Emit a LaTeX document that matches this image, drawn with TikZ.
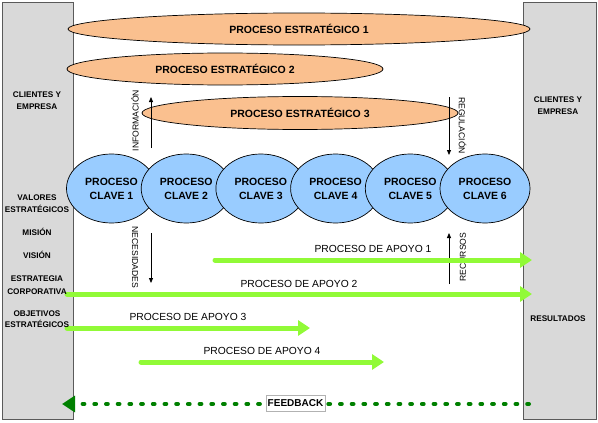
\documentclass[tikz,border=0pt]{standalone}
\usepackage{fontspec}
\setmainfont{Liberation Sans}
\usetikzlibrary{shapes.geometric,arrows.meta}
\definecolor{grayfill}{RGB}{217,217,217}
\definecolor{grayline}{RGB}{90,90,90}
\definecolor{peach}{RGB}{250,192,143}
\definecolor{skyblue}{RGB}{153,204,255}
\definecolor{limeg}{RGB}{145,250,55}
\definecolor{darkg}{RGB}{0,128,0}
\begin{document}
\begin{tikzpicture}[x=1pt,y=-1pt,
  grayblock/.style={draw=grayline,fill=grayfill,line width=0.9pt},
  strat/.style={ellipse,draw=black,fill=peach,line width=0.7pt,inner sep=0pt,
    font=\bfseries\fontsize{10.5}{12}\selectfont},
  clave/.style={ellipse,draw=black,fill=skyblue,line width=0.7pt,inner sep=0pt,
    minimum width=90pt,minimum height=69pt,align=center,
    font=\bfseries\fontsize{10.5}{14}\selectfont},
  sidelabel/.style={align=center,inner sep=0pt,font=\bfseries\fontsize{8.2}{12}\selectfont},
  vlabel/.style={inner sep=0pt,font=\fontsize{8.6}{9}\selectfont},
  apoyolabel/.style={inner sep=0pt,font=\fontsize{10.3}{12}\selectfont},
  greenarrow/.style={draw=limeg,line width=5pt,line cap=round,
    -{Triangle[length=12pt,width=15pt]}},
  blackarrow/.style={draw=black,line width=0.8pt,-{Triangle[length=5pt,width=4pt]}},
  feedarrow/.style={draw=darkg,line width=4pt,line cap=round,dash pattern=on 1.8pt off 9.9pt,
    -{Triangle[length=13pt,width=16pt]}}]
\useasboundingbox (0,0) rectangle (598,423);
% side blocks
\draw[grayblock] (2,2) rectangle (73,419);
\draw[grayblock] (523,2) rectangle (596,419);
% strategic ellipses
\node[strat,minimum width=462pt,minimum height=32pt] (e1) at (299,29) {PROCESO ESTRATÉGICO 1};
\node[strat,minimum width=316pt,minimum height=32pt] (e2) at (225,69) {PROCESO ESTRATÉGICO 2};
\node[strat,minimum width=316pt,minimum height=33pt] (e3) at (300,113) {PROCESO ESTRATÉGICO 3};
% key processes
\node[clave] (k1) at (111.5,188.5) {PROCESO\\CLAVE 1};
\node[clave] (k2) at (186.2,188.5) {PROCESO\\CLAVE 2};
\node[clave] (k3) at (260.9,188.5) {PROCESO\\CLAVE 3};
\node[clave] (k4) at (335.6,188.5) {PROCESO\\CLAVE 4};
\node[clave] (k5) at (410.3,188.5) {PROCESO\\CLAVE 5};
\node[clave] (k6) at (485,188.5) {PROCESO\\CLAVE 6};
% black arrows
\coordinate (infA) at (151,148);
\coordinate (infB) at (151,97);
\coordinate (regA) at (449,97);
\coordinate (regB) at (449,155);
\coordinate (necA) at (151,233);
\coordinate (necB) at (151,283);
\coordinate (recA) at (449,284);
\coordinate (recB) at (449,233);
\draw[blackarrow] (infA) -- (infB);
\draw[blackarrow] (regA) -- (regB);
\draw[blackarrow] (necA) -- (necB);
\draw[blackarrow] (recA) -- (recB);
\node[vlabel,rotate=90] (tinf) at (135,120.5) {INFORMACIÓN};
\node[vlabel,rotate=-90] (treg) at (462.5,125.5) {REGULACIÓN};
\node[vlabel,rotate=-90] (tnec) at (135,257.5) {NECESIDADES};
\node[vlabel,rotate=90] (trec) at (463,257) {RECURSOS};
% support processes
\coordinate (a1s) at (215,260);
\coordinate (a1e) at (532,260);
\coordinate (a2s) at (67,294);
\coordinate (a2e) at (532,294);
\coordinate (a3s) at (67,328);
\coordinate (a3e) at (310,328);
\coordinate (a4s) at (141,362);
\coordinate (a4e) at (384,362);
\draw[greenarrow] (a1s) -- (a1e);
\draw[greenarrow] (a2s) -- (a2e);
\draw[greenarrow] (a3s) -- (a3e);
\draw[greenarrow] (a4s) -- (a4e);
\node[apoyolabel] (l1) at (373,249) {PROCESO DE APOYO 1};
\node[apoyolabel] (l2) at (299,283.5) {PROCESO DE APOYO 2};
\node[apoyolabel] (l3) at (188,317) {PROCESO DE APOYO 3};
\node[apoyolabel] (l4) at (262,351) {PROCESO DE APOYO 4};
% feedback
\coordinate (fbs) at (529,404);
\coordinate (fbe) at (62,404);
\draw[feedarrow] (fbs) -- (fbe);
\node[draw=gray!60,fill=white,line width=0.5pt,inner xsep=1.5pt,inner ysep=0pt,minimum height=16pt,
  font=\bfseries\fontsize{10}{12}\selectfont] (fb) at (295.5,403.5) {FEEDBACK};
% side labels
\node[sidelabel] (s1) at (37,101) {CLIENTES Y\\EMPRESA};
\node[sidelabel] (s2) at (37,204) {VALORES\\ESTRATÉGICOS};
\node[sidelabel] (s3) at (37,232) {MISIÓN};
\node[sidelabel] (s4) at (37,255) {VISIÓN};
\node[sidelabel,font=\bfseries\fontsize{8.2}{13}\selectfont] (s5) at (37,285) {ESTRATEGIA\\CORPORATIVA};
\node[sidelabel,font=\bfseries\fontsize{8.2}{10.5}\selectfont] (s6) at (37,319) {OBJETIVOS\\ESTRATÉGICOS};
\node[sidelabel] (r1) at (558,106) {CLIENTES Y\\EMPRESA};
\node[sidelabel] (r2) at (558,319) {RESULTADOS};
\end{tikzpicture}
\end{document}
